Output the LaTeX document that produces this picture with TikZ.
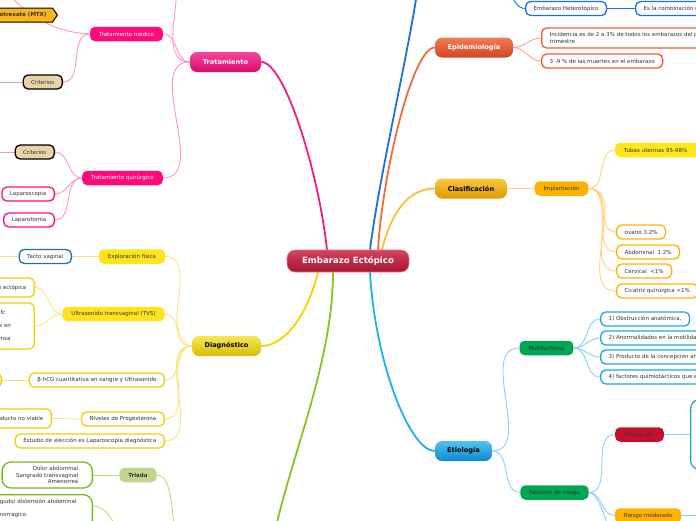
\documentclass[tikz,border=0pt]{standalone}
\usepackage{fontspec}
\setmainfont{DejaVu Sans}
\usetikzlibrary{positioning,shapes.symbols,backgrounds}

\definecolor{txt}{HTML}{333333}
\definecolor{rootTop}{HTML}{D6435F}
\definecolor{rootBot}{HTML}{A3152F}
\definecolor{pinkTop}{HTML}{F5469D}
\definecolor{pinkBot}{HTML}{D80A6E}
\definecolor{pinkFill}{HTML}{FF0A7A}
\definecolor{pinkLine}{HTML}{F01E82}
\definecolor{pinkTwig}{HTML}{FF94C2}
\definecolor{critFill}{HTML}{E8D3A6}
\definecolor{mtxFill}{HTML}{FBB517}
\definecolor{yelTop}{HTML}{F7E654}
\definecolor{yelBot}{HTML}{D6BE00}
\definecolor{yelFill}{HTML}{FFE31C}
\definecolor{yelLine}{HTML}{F2D400}
\definecolor{yelBorder}{HTML}{F2CF00}
\definecolor{yelTwig}{HTML}{F9E47C}
\definecolor{tactoBorder}{HTML}{1F70B8}
\definecolor{grnFill}{HTML}{C3D48D}
\definecolor{grnBorder}{HTML}{7DB71B}
\definecolor{grnLine}{HTML}{8CC21E}
\definecolor{grnTwig}{HTML}{BAD97A}
\definecolor{defLine}{HTML}{1E6FD8}
\definecolor{epiTop}{HTML}{F27C56}
\definecolor{epiBot}{HTML}{D2451E}
\definecolor{epiLine}{HTML}{F46A3E}
\definecolor{epiBorder}{HTML}{F25C2A}
\definecolor{epiTwig}{HTML}{F9A48A}
\definecolor{claTop}{HTML}{F9C63E}
\definecolor{claBot}{HTML}{DE9A00}
\definecolor{claLine}{HTML}{FFC02E}
\definecolor{amberFill}{HTML}{FFB300}
\definecolor{tubasFill}{HTML}{FFE619}
\definecolor{claTwig}{HTML}{FFD47E}
\definecolor{etiTop}{HTML}{52C2F2}
\definecolor{etiBot}{HTML}{1088CE}
\definecolor{etiLine}{HTML}{1CB0F0}
\definecolor{emerald}{HTML}{00A651}
\definecolor{etiBorder}{HTML}{1AA6EC}
\definecolor{etiTwig}{HTML}{86D2F5}
\definecolor{riskHigh}{HTML}{C8102E}

\begin{document}
\begin{tikzpicture}[
        x=1pt, y=1pt,
        font=\fontsize{5.5}{6.6}\selectfont,
        root/.style={rectangle, rounded corners=8pt, draw=rootTop!70!white, line width=0.6pt,
                     top color=rootTop, bottom color=rootBot, text=white,
                     font=\fontsize{8.6}{10}\selectfont\bfseries,
                     minimum height=22pt, minimum width=122pt, inner sep=0pt},
        topic/.style={rectangle, rounded corners=7pt, minimum height=20pt, inner sep=0pt,
                      font=\fontsize{6.6}{8}\selectfont\bfseries},
        sub/.style={rectangle, rounded corners=5pt, minimum height=14.5pt,
                    inner xsep=9pt, inner ysep=0pt, text=txt},
        leaf/.style={rectangle, rounded corners=5pt, draw, line width=1.3pt, fill=white, text=txt,
                     minimum height=14pt, inner xsep=8pt, inner ysep=0pt},
        crit/.style={leaf, draw=black, fill=critFill},
        trunk/.style={line width=1.8pt},
        twig/.style={line width=0.9pt},
    ]
    \useasboundingbox (0,-520) rectangle (696,0);
    \clip (0,-520) rectangle (696,0);

    \node[root] (root) at (348,-261) {Embarazo Ectópico};

    % Tratamiento
    \node[topic, top color=pinkTop, bottom color=pinkBot, text=white, minimum width=71pt] (trat) at (225.5,-62) {Tratamiento};
    \node[sub, fill=pinkFill, text=white] (tmed) at (126.5,-34) {Tratamiento médico};
    \node[sub, fill=pinkFill, text=white] (tquir) at (122.5,-178) {Tratamiento quirúrgico};
    \node[signal, signal to=east, signal pointer angle=110, draw=black, line width=1pt, fill=mtxFill,
          text=txt, font=\fontsize{5.5}{6.6}\selectfont\bfseries, minimum height=14pt,
          inner xsep=6pt, inner ysep=0pt, anchor=east] (mtx) at (58,-15) {Metotrexate (MTX)};
    \node[crit, anchor=east] (crita) at (63,-82) {Criterios};
    \node[crit, anchor=east] (critb) at (55,-152) {Criterios};
    \node[leaf, draw=pinkFill, anchor=east] (lapsc) at (55,-194) {Laparoscopia};
    \node[leaf, draw=pinkFill, anchor=east] (lapto) at (55,-220) {Laparotomia};
    \coordinate (tratup) at (160,40);
    \coordinate (medup) at (8,6);
    \coordinate (critaw) at (-20,-82);
    \coordinate (critbw) at (-20,-152);

    % Diagnostico
    \node[topic, top color=yelTop, bottom color=yelBot, text=black, minimum width=69pt] (diag) at (226.5,-346) {Diagnóstico};
    \node[sub, fill=yelFill] (explo) at (132,-256.5) {Exploración física};
    \node[sub, fill=yelFill] (ultra) at (113.5,-314) {Ultrasonido transvaginal (TVS)};
    \node[leaf, draw=tactoBorder, anchor=east] (tacto) at (72,-256.5) {Tacto vaginal};
    \node[leaf, draw=yelBorder, anchor=east, minimum height=19pt] (ecto) at (35,-287.5) {Gestación ectópica};
    \node[leaf, draw=yelBorder, anchor=east, text width=99pt, align=left, minimum height=46pt] (ultrb) at (35,-326)
          {Saco anexial con embrión fc\\[6.4pt]Masas anexiales complejas en\\[6.4pt]Hemoperitoneo o masa densa};
    \node[leaf, draw=yelBorder, anchor=east] (bhcg) at (165,-380) {β-hCG cuantitativa en sangre y Ultrasonido};
    \node[leaf, draw=yelBorder, anchor=east, minimum width=40pt] (bhcgc) at (2,-380) {};
    \node[leaf, draw=yelBorder, anchor=east] (prog) at (165,-419) {Niveles de Progesterona};
    \node[leaf, draw=yelBorder, anchor=east, minimum height=19pt] (prodnv) at (52,-418.5) {Producto no viable};
    \node[leaf, draw=yelBorder, anchor=east] (estud) at (165,-441) {Estudio de elección es Laparoscopia diagnóstica};
    \coordinate (tactow) at (-20,-256.5);

    % Cuadro clinico (parte visible)
    \node[sub, fill=grnFill, font=\fontsize{5.5}{6.6}\selectfont\bfseries] (triada) at (138,-475) {Triada};
    \node[leaf, draw=grnBorder, anchor=east, rounded corners=9pt, align=right, inner xsep=14pt,
          minimum height=26pt, font=\fontsize{5.5}{6.5}\selectfont] (triadb) at (93,-475)
          {Dolor abdominal\\Sangrado transvaginal\\Amenorrea};
    \node[leaf, draw=grnBorder, anchor=north east, rounded corners=9pt, text width=116pt, align=left,
          inner ysep=4.5pt] (signb) at (93,-494)
          {Abdomen agudo/ distensión abdominal\\[6.4pt]Choque hemorrágico.\\[8pt]\mbox{}};
    \coordinate (clin) at (270,-560);
    \coordinate (clinw) at (176,-548);
    \coordinate (signo) at (118,-534);

    % Definicion
    \node[leaf, draw=defLine, anchor=west] (hetero) at (525,-8.5) {Embarazo Heterotópico};
    \node[leaf, draw=defLine, anchor=west] (combi) at (635,-8.5) {Es la combinación de embarazo intrauterino y ectópico};
    \coordinate (defi) at (420,30);
    \coordinate (hetup) at (510,10);

    % Epidemiologia
    \node[topic, top color=epiTop, bottom color=epiBot, text=white, minimum width=78pt] (epi) at (474,-47.5) {Epidemiología};
    \node[leaf, draw=epiBorder, anchor=west, align=left, minimum height=20pt, font=\fontsize{5.5}{7}\selectfont] (incid) at (541,-38)
          {Incidencia es de 2 a 3\% de todos los embarazos del primer\\trimestre};
    \node[leaf, draw=epiBorder, anchor=west] (muert) at (541,-61) {3 -9 \% de las muertes en el embarazo};

    % Clasificacion
    \node[topic, top color=claTop, bottom color=claBot, text=black, minimum width=72pt] (clas) at (471,-188.5) {Clasificación};
    \node[sub, fill=amberFill] (impl) at (561.5,-188.5) {Implantación};
    \node[sub, fill=tubasFill, anchor=west, minimum width=95pt, align=left, text width=78pt] (tubas) at (615,-150) {Tubas uterinas 95-98\%};
    \node[leaf, draw=amberFill, anchor=west] (ovario) at (616,-232) {ovario 3.2\%};
    \node[leaf, draw=amberFill, anchor=west] (abdom) at (616,-252) {Abdominal\ \ 1.2\%};
    \node[leaf, draw=amberFill, anchor=west] (cervi) at (616,-271) {Cervical\ \ <1\%};
    \node[leaf, draw=amberFill, anchor=west] (cicat) at (616,-291) {Cicatriz quirúrgica <1\%};

    % Etiologia
    \node[topic, top color=etiTop, bottom color=etiBot, text=black, minimum width=57pt] (etio) at (463.5,-451) {Etiología};
    \node[sub, fill=emerald] (multi) at (546.5,-348) {Multifactorial};
    \node[leaf, draw=etiBorder, anchor=west] (obstr) at (600,-319) {1) Obstrucción anatómica,};
    \node[leaf, draw=etiBorder, anchor=west] (motil) at (600,-338) {2) Anormalidades en la motilidad tubaria};
    \node[leaf, draw=etiBorder, anchor=west] (concep) at (600,-357) {3) Producto de la concepción anormal};
    \node[leaf, draw=etiBorder, anchor=west] (quimio) at (600,-377) {4) factores quimiotácticos que emanan del producto};
    \node[sub, fill=emerald] (fact) at (554.5,-492.5) {Factores de riesgo};
    \node[sub, fill=riskHigh] (ralto) at (639.5,-434.5) {Riesgo alto};
    \node[sub, fill=amberFill] (rmod) at (648,-515.5) {Riesgo moderado};
    \node[leaf, draw=etiBorder, anchor=west, rounded corners=9pt, minimum width=60pt, minimum height=70pt] (raltob) at (690,-434.5) {};
    \coordinate (rbajo) at (612,-560);
    \coordinate (rmodr) at (720,-515.5);

    \begin{scope}[on background layer]
        \clip (0,-520) rectangle (696,0);
        % ramas principales
        \draw[trunk, pinkLine] (trat.east) .. controls +(24,0) and +(-8,75) .. ([xshift=-21pt]root.north);
        \draw[trunk, defLine] ([xshift=22pt]root.north) .. controls +(10,80) and +(-6,-60) .. (defi);
        \draw[trunk, epiLine] ([xshift=30pt]root.north) .. controls +(5,80) and +(-22,0) .. (epi.west);
        \draw[trunk, claLine] ([xshift=34pt]root.north) .. controls +(10,40) and +(-25,0) .. (clas.west);
        \draw[trunk, etiLine] ([xshift=22pt]root.south) .. controls +(5,-90) and +(-25,0) .. (etio.west);
        \draw[trunk, yelLine] (diag.east) .. controls +(25,0) and +(-10,-40) .. ([xshift=-30pt]root.south);
        \draw[trunk, grnLine] ([xshift=-15pt]root.south) .. controls +(0,-100) and +(10,80) .. (clin);

        % Tratamiento
        \draw[twig, pinkTwig] (trat.west) to[out=180,in=0] (tmed.east);
        \draw[twig, pinkTwig] (trat.west) to[out=180,in=0] (tquir.east);
        \draw[twig, pinkTwig] (trat.west) to[out=180,in=0] (tratup);
        \draw[twig, pinkTwig] (tmed.west) .. controls +(-45,2) and +(12,-12) .. (medup);
        \draw[twig, pinkTwig] (tmed.west) to[out=180,in=0] (crita.east);
        \draw[twig, pinkTwig] (crita.west) -- (critaw);
        \draw[twig, pinkTwig] (tquir.west) to[out=180,in=0] (critb.east);
        \draw[twig, pinkTwig] (tquir.west) to[out=180,in=0] (lapsc.east);
        \draw[twig, pinkTwig] (tquir.west) to[out=180,in=0] (lapto.east);
        \draw[twig, pinkTwig] (critb.west) -- (critbw);

        % Diagnostico
        \foreach \kid in {explo, ultra, bhcg, prog, estud}
            \draw[twig, yelTwig] (diag.west) to[out=180,in=0] (\kid.east);
        \draw[twig, yelTwig] (explo.west) -- (tacto.east);
        \draw[twig, yelTwig] (tacto.west) -- (tactow);
        \draw[twig, yelTwig] (ultra.west) to[out=180,in=0] (ecto.east);
        \draw[twig, yelTwig] (ultra.west) to[out=180,in=0] (ultrb.east);
        \draw[twig, yelTwig] (bhcg.west) -- (bhcgc.east);
        \draw[twig, yelTwig] (prog.west) -- (prodnv.east);

        % Cuadro clinico
        \draw[twig, grnTwig] (triada.west) -- (triadb.east);
        \draw[twig, grnTwig] (triada.east) .. controls +(15,0) and +(-4,40) .. (clinw);
        \draw[twig, grnTwig] ([yshift=-12pt]signb.north east) .. controls +(12,0) and +(-4,14) .. (signo);

        % Definicion
        \draw[twig, defLine] (hetero.west) .. controls +(-8,0) and +(2,-8) .. (hetup);
        \draw[twig, defLine] (hetero.east) -- (combi.west);

        % Epidemiologia
        \draw[twig, epiTwig] (epi.east) to[out=0,in=180] (incid.west);
        \draw[twig, epiTwig] (epi.east) to[out=0,in=180] (muert.west);

        % Clasificacion
        \draw[twig, claTwig] (clas.east) -- (impl.west);
        \foreach \kid in {tubas, ovario, abdom, cervi, cicat}
            \draw[twig, claTwig] (impl.east) to[out=0,in=180] (\kid.west);

        % Etiologia
        \draw[twig, etiTwig] (etio.east) to[out=0,in=180] (multi.west);
        \draw[twig, etiTwig] (etio.east) to[out=0,in=180] (fact.west);
        \foreach \kid in {obstr, motil, concep, quimio}
            \draw[twig, etiTwig] (multi.east) to[out=0,in=180] (\kid.west);
        \draw[twig, etiTwig] (fact.east) to[out=0,in=180] (ralto.west);
        \draw[twig, etiTwig] (fact.east) to[out=0,in=180] (rmod.west);
        \draw[twig, etiTwig] (fact.east) .. controls +(10,0) and +(0,30) .. (rbajo);
        \draw[twig, etiTwig] (ralto.east) -- (raltob.west);
        \draw[twig, etiTwig] (rmod.east) -- (rmodr);
    \end{scope}
\end{tikzpicture}
\end{document}
